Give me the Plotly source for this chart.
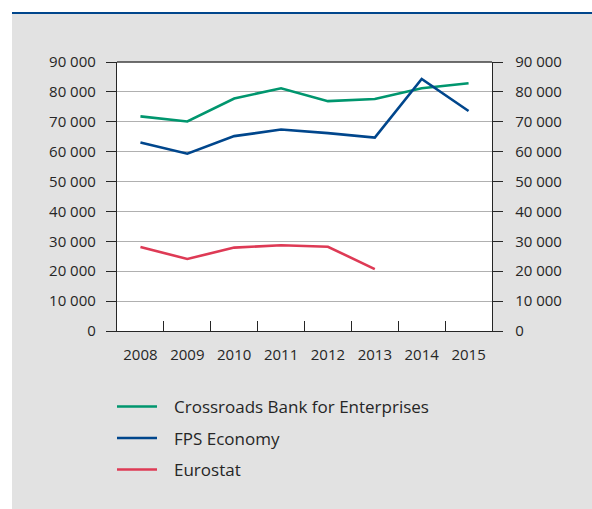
import plotly.graph_objects as go

years = ["2008", "2009", "2010", "2011", "2012", "2013", "2014", "2015"]
cbe = [71800, 70100, 77800, 81200, 76900, 77600, 81200, 82900]
fps = [63100, 59300, 65200, 67400, 66200, 64700, 84300, 73600]
eurostat = [28100, 24100, 27900, 28700, 28200, 20700]
series_names = ["Crossroads Bank for Enterprises", "FPS Economy", "Eurostat"]
tick_vals = [0, 10000, 20000, 30000, 40000, 50000, 60000, 70000, 80000, 90000]
tick_text = ["0", "10 000", "20 000", "30 000", "40 000", "50 000",
             "60 000", "70 000", "80 000", "90 000"]

GREEN = "#00966e"
BLUE = "#00468c"
RED = "#de3a55"
colors = [GREEN, BLUE, RED]
FONT = "Open Sans"
TXT = "#262626"

W, H = 592, 509
L, R, T, B = 117, 492, 62, 331  # plot area in px


def px(x):
    return (x - L) / (R - L)


def py(y):
    return (B - y) / (B - T)


fig = go.Figure()
for name, vals, c in zip(series_names, [cbe, fps, eurostat], colors):
    fig.add_trace(go.Scatter(x=years[:len(vals)], y=vals, mode="lines", name=name,
                             line=dict(color=c, width=2.6), showlegend=False))
# invisible trace for right axis
fig.add_trace(go.Scatter(x=years, y=[None] * len(years), yaxis="y2",
                         showlegend=False, hoverinfo="skip"))

shapes = [
    dict(type="rect", xref="paper", yref="paper", x0=px(12), x1=px(600),
         y0=py(14), y1=py(515), fillcolor="#e2e2e2", line_width=0, layer="below"),
    dict(type="line", xref="paper", yref="paper", x0=px(12), x1=px(600),
         y0=py(13), y1=py(13), line=dict(color=BLUE, width=2)),
    dict(type="rect", xref="paper", yref="paper", x0=0, x1=1, y0=0, y1=1,
         fillcolor="white", line_width=0, layer="below"),
    dict(type="line", xref="paper", yref="paper", x0=0, x1=1, y0=1, y1=1,
         line=dict(color="#404040", width=1.3)),
]
annotations = []
legend_y = [406.5, 438, 469.5]
for name, c, ly in zip(series_names, colors, legend_y):
    shapes.append(dict(type="line", xref="paper", yref="paper", x0=px(117), x1=px(157),
                       y0=py(ly), y1=py(ly), line=dict(color=c, width=2.6)))
    annotations.append(dict(xref="paper", yref="paper", x=px(172), y=py(ly),
                            xanchor="left", yanchor="middle", text=name, showarrow=False,
                            font=dict(family=FONT, size=17, color=TXT)))

axis_common = dict(range=[0, 90000], tickvals=tick_vals, ticktext=tick_text,
                   ticks="outside", ticklen=10, tickcolor="#262626", showline=True,
                   linecolor="#262626", linewidth=1.3, zeroline=False,
                   tickfont=dict(family=FONT, size=15, color=TXT), fixedrange=True)

fig.update_layout(
    width=W, height=H,
    margin=dict(l=L, r=W - R, t=T, b=H - B, pad=0),
    paper_bgcolor="white", plot_bgcolor="white",
    shapes=shapes, annotations=annotations,
    xaxis=dict(type="category", range=[-0.5, 7.5], tickson="boundaries",
               ticks="inside", ticklen=10, tickcolor="#262626", showgrid=False,
               showline=True, linecolor="#262626", linewidth=1.3,
               tickfont=dict(family=FONT, size=15, color=TXT), ticklabelstandoff=10),
    yaxis=dict(showgrid=True, gridcolor="#b0b0b0", gridwidth=1.2, side="left",
               ticklabelstandoff=7, **axis_common),
    yaxis2=dict(overlaying="y", side="right", showgrid=False,
                ticklabelstandoff=9, **axis_common),
    showlegend=False,
)
fig.write_html("out.html")
